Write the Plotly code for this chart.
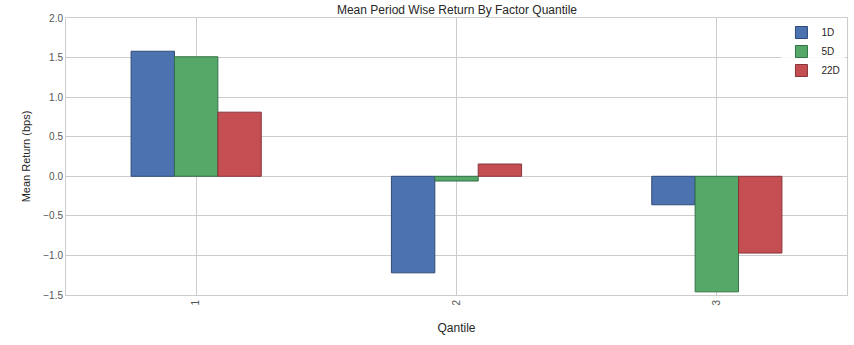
import plotly.graph_objects as go

quantiles = ["1", "2", "3"]
ret_1d = [1.58, -1.22, -0.36]
ret_5d = [1.51, -0.06, -1.46]
ret_22d = [0.81, 0.155, -0.97]
series_names = ["1D", "5D", "22D"]
colors = ["#4C72B0", "#55A868", "#C44E52"]
edges = ["#2f4a78", "#357048", "#86353a"]

fig = go.Figure()
for name, vals, c, e in zip(series_names, [ret_1d, ret_5d, ret_22d], colors, edges):
    fig.add_trace(go.Bar(x=quantiles, y=vals, name=name,
                         marker=dict(color=c, line=dict(color=e, width=1))))

font = "Liberation Sans, Arial, sans-serif"
fig.update_layout(
    width=854, height=345,
    margin=dict(l=66, r=7, t=18, b=50, autoexpand=False),
    paper_bgcolor="white", plot_bgcolor="white",
    barmode="group", bargap=0.5, bargroupgap=0,
    font=dict(family=font, size=10, color="#555555"),
    title=dict(text="Mean Period Wise Return By Factor Quantile",
               x=457 / 854, xref="container", xanchor="center",
               y=1 - 9.5 / 345, yref="container", yanchor="middle",
               font=dict(size=12, color="#262626", family=font)),
    legend=dict(x=0.998, y=1.0, xanchor="right", yanchor="top",
                bgcolor="rgba(255,255,255,0.9)", font=dict(size=10, color="#262626"),
                itemwidth=30, tracegroupgap=0),
    showlegend=True,
)
fig.update_xaxes(
    type="category", range=[-0.5, 2.5], tickangle=-90, automargin=False,
    showgrid=True, gridcolor="#cccccc", gridwidth=1,
    showline=True, linecolor="#cccccc", mirror=True,
    ticks="", tickfont=dict(size=10, color="#555555"),
    title=dict(text="Qantile", font=dict(size=12, color="#262626"), standoff=19),
)
fig.update_yaxes(
    range=[-1.5, 2.0], dtick=0.5, tickformat=".1f", automargin=False,
    showgrid=True, gridcolor="#cccccc", gridwidth=1,
    showline=True, linecolor="#cccccc", mirror=True,
    zeroline=False, ticks="", tickfont=dict(size=10, color="#555555"),
    title=dict(text="Mean Return (bps)", font=dict(size=11, color="#262626"), standoff=10),
)
fig.write_html("out.html", config={"displayModeBar": False},
               post_script="document.body.style.margin='0';")
